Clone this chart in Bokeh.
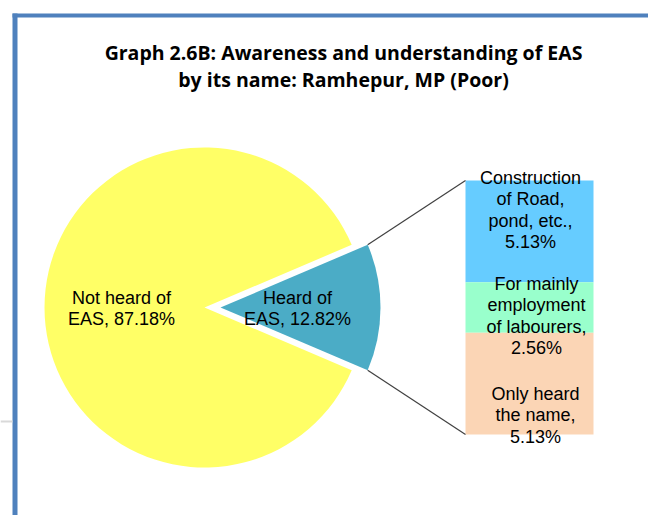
import math
from bokeh.plotting import figure
from bokeh.models import Range1d
from bokeh.core.properties import value
from bokeh.embed import file_html
from bokeh.resources import INLINE

# ---- data ----
title_lines = ["Graph 2.6B: Awareness and understanding of EAS",
               "by its name: Ramhepur, MP (Poor)"]
main_labels = [["Not heard of", "EAS, 87.18%"], ["Heard of", "EAS, 12.82%"]]
main_values = [87.18, 12.82]
sub_labels = [["Construction", "of Road,", "pond, etc.,", "5.13%"],
              ["For mainly", "employment", "of labourers,", "2.56%"],
              ["Only heard", "the name,", "5.13%"]]
sub_values = [5.13, 2.56, 5.13]

# ---- styles / layout (pixel-like data coordinates, y up) ----
W, H = 648, 515
IMG_H = 531
def Y(img_y):
    return IMG_H - img_y

p = figure(width=W, height=H, output_backend="svg", toolbar_location=None,
           x_range=Range1d(0, W), y_range=Range1d(IMG_H - H, IMG_H),
           min_border=0)
p.axis.visible = False
p.grid.visible = False
p.outline_line_color = None
p.background_fill_color = "white"

# frame lines
border = "#4F81BD"
p.quad(left=[12], right=[17], bottom=[Y(531)], top=[Y(13)], fill_color=border, line_color=None)
p.quad(left=[12], right=[664], bottom=[Y(17)], top=[Y(13)], fill_color=border, line_color=None)
p.quad(left=[0], right=[12], bottom=[Y(422)], top=[Y(420)], fill_color="#D9D9D9", line_color=None)

# title
font_title = value("Open Sans")
for i, t in enumerate(title_lines):
    p.text(x=[343], y=[Y(52 + 27 * i)], text=[t], text_font=font_title,
           text_font_style="bold", text_font_size="19.5px", text_align="center",
           text_baseline="middle", text_color="black")

# pie
cx, cy = 204, Y(307)
R = 160
explode = 16
total = sum(main_values)
half = math.pi * main_values[1] / total
p.wedge(x=[cx], y=[cy], radius=R, start_angle=half, end_angle=2 * math.pi - half,
        fill_color="#FFFF66", line_color=None)
ex = cx + explode
p.wedge(x=[ex], y=[cy], radius=R, start_angle=-half, end_angle=half,
        fill_color="#4BACC6", line_color=None)

lbl_font = value("Liberation Sans")
pie_label_pos = [(121, 297), (297, 297)]
for (lx, ly), lines in zip(pie_label_pos, main_labels):
    for j, t in enumerate(lines):
        p.text(x=[lx], y=[Y(ly + 21 * j)], text=[t], text_font=lbl_font,
               text_font_size="18px", text_align="center", text_baseline="middle",
               text_color="black")

# stacked bar
bx0, bx1 = 465, 593
btop = Y(180)
bar_h = 254
scale = bar_h / sum(sub_values)
colors = ["#66CCFF", "#99FFCC", "#FBD5B5"]
tops, bottoms = [], []
cur = btop
for v in sub_values:
    tops.append(cur)
    cur -= v * scale
    bottoms.append(cur)
p.quad(left=[bx0] * 3, right=[bx1] * 3, top=tops, bottom=bottoms,
       fill_color=colors, line_color=None)

# connector lines
ux, uy = ex + R * math.cos(half), cy + R * math.sin(half)
lx_, ly_ = ex + R * math.cos(-half), cy + R * math.sin(-half)
p.segment(x0=[ux, lx_], y0=[uy, ly_], x1=[bx0, bx0], y1=[tops[0], bottoms[-1]],
          line_color="#404040", line_width=1.2)

# bar labels
sub_pos = [(530, 177), (536, 283), (535, 393)]
for (sx, sy), lines in zip(sub_pos, sub_labels):
    for j, t in enumerate(lines):
        p.text(x=[sx], y=[Y(sy + 21.5 * j)], text=[t], text_font=lbl_font,
               text_font_size="18px", text_align="center", text_baseline="middle",
               text_color="black")

open("out.html", "w").write(file_html(p, INLINE))
